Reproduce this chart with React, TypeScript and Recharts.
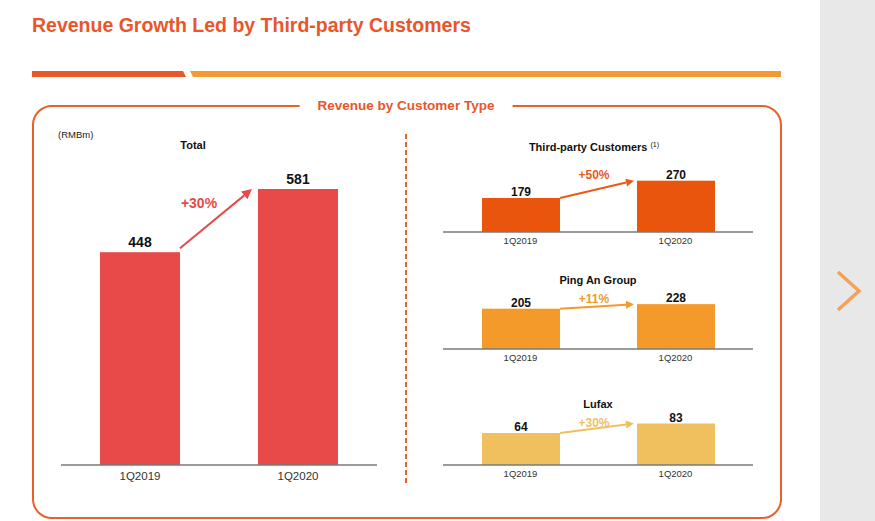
import React from 'react';
import { BarChart, Bar, XAxis, YAxis, LabelList } from 'recharts';

// values (RMB m)
const periods = ['1Q2019', '1Q2020'];
const totalRevenue = [448, 581];
const thirdPartyRevenue = [179, 270];
const pingAnRevenue = [205, 228];
const lufaxRevenue = [64, 83];
const growthTotal = '+30%';
const growthThirdParty = '+50%';
const growthPingAn = '+11%';
const growthLufax = '+30%';

const FONT = '"Liberation Sans", Arial, Helvetica, sans-serif';
const ORANGE = '#e9602a';

type ChartProps = {
  values: number[];
  growth: string;
  color: string;
  arrowColor: string;
  left: number;
  width: number;
  plotTop: number;
  plotHeight: number;
  yMax: number;
  barSize: number;
  axisH: number;
  tickFont: number;
  tickGap: number;
  valueSize: number;
  valueOffset: number;
  growthSize: number;
  startDy: number;
  endGap: number;
  head: number;
  labelDx: number;
  labelDy: number;
};

function GrowthChart(p: ChartProps) {
  const rows = periods.map((period, i) => ({ period, value: p.values[i] }));
  const topPad = 40;
  const rects: any[] = [];

  // bar shape: the second bar also draws the growth arrow from the first bar
  const shape = (props: any) => {
    const { x, y, width, height, index } = props;
    rects[index] = { x, y, width, height };
    let arrow = null;
    if (index === 1 && rects[0]) {
      const a = rects[0];
      const sx = a.x + a.width;
      const sy = a.y + p.startDy;
      const ex = x - p.endGap;
      const ey = y;
      const ang = Math.atan2(ey - sy, ex - sx);
      const bx = ex - p.head * Math.cos(ang);
      const by = ey - p.head * Math.sin(ang);
      const hw = p.head * 0.5;
      const px = -Math.sin(ang) * hw;
      const py = Math.cos(ang) * hw;
      arrow = (
        <g>
          <line x1={sx} y1={sy} x2={bx} y2={by} stroke={p.arrowColor} strokeWidth={2} />
          <polygon points={`${ex},${ey} ${bx + px},${by + py} ${bx - px},${by - py}`} fill={p.arrowColor} />
          <text
            x={sx + p.labelDx}
            y={y + p.labelDy}
            textAnchor="middle"
            dominantBaseline="central"
            fill={p.arrowColor}
            fontSize={p.growthSize}
            fontWeight="bold"
            fontFamily={FONT}
          >
            {p.growth}
          </text>
        </g>
      );
    }
    return (
      <g>
        <rect x={x} y={y} width={width} height={height} fill={p.color} />
        {arrow}
      </g>
    );
  };

  return (
    <div style={{ position: 'absolute', left: p.left, top: p.plotTop - topPad }}>
      <BarChart
        width={p.width}
        height={topPad + p.plotHeight + p.axisH}
        data={rows}
        margin={{ top: topPad, right: 10, bottom: 0, left: 10 }}
      >
        <XAxis
          dataKey="period"
          height={p.axisH}
          interval={0}
          tickLine={false}
          tickSize={p.tickGap}
          tickMargin={0}
          axisLine={{ stroke: '#7a7a7a', strokeWidth: 1.5 }}
          tick={{ fill: '#333', fontSize: p.tickFont, fontFamily: FONT }}
        />
        <YAxis hide domain={[0, p.yMax]} />
        <Bar dataKey="value" barSize={p.barSize} shape={shape} isAnimationActive={false}>
          <LabelList
            dataKey="value"
            position="top"
            offset={p.valueOffset}
            fill="#111"
            fontSize={p.valueSize}
            fontWeight="bold"
            fontFamily={FONT}
          />
        </Bar>
      </BarChart>
    </div>
  );
}

function Txt({ x, y, size, children, color = '#111', bold = false, anchor = 'center' }: any) {
  const tx = anchor === 'center' ? '-50%' : '0';
  return (
    <div
      style={{
        position: 'absolute',
        left: x,
        top: y,
        transform: `translate(${tx}, -50%)`,
        whiteSpace: 'nowrap',
        fontSize: size,
        fontWeight: bold ? 'bold' : 'normal',
        color,
        fontFamily: FONT,
        lineHeight: 1,
      }}
    >
      {children}
    </div>
  );
}

const rightCommon = {
  left: 433,
  width: 330,
  barSize: 78,
  axisH: 20,
  tickFont: 9.5,
  tickGap: 5.5,
  valueSize: 12,
  valueOffset: 2,
  growthSize: 12,
  startDy: 0,
  endGap: 3,
  head: 8,
  labelDx: 34,
};

export default function App() {
  return (
    <div
      style={{
        position: 'absolute',
        left: 0,
        top: 0,
        width: 875,
        height: 521,
        background: '#fff',
        overflow: 'hidden',
        fontFamily: FONT,
      }}
    >
      {/* grey side panel with next arrow */}
      <div style={{ position: 'absolute', left: 820, top: 0, width: 55, height: 521, background: '#e8e8e8' }} />
      <svg style={{ position: 'absolute', left: 0, top: 0 }} width={875} height={521}>
        <polyline points="838,272 859,291 838,310" fill="none" stroke="#f5a259" strokeWidth={3.5} />
        <polygon points="32,71 183,71 186,77 32,77" fill="#e8582a" />
        <polygon points="190,71 781,71 781,77 193,77" fill="#f39a33" />
        <line x1={406} y1={134} x2={406} y2={484} stroke={ORANGE} strokeWidth={2} strokeDasharray="5 3" />
      </svg>

      <Txt x={32} y={26} size={19.5} bold color="#e8562a" anchor="left">
        Revenue Growth Led by Third-party Customers
      </Txt>

      {/* rounded frame */}
      <div
        style={{
          position: 'absolute',
          left: 32,
          top: 105,
          width: 750,
          height: 414,
          boxSizing: 'border-box',
          border: `2.5px solid ${ORANGE}`,
          borderRadius: 20,
        }}
      />
      <div
        style={{
          position: 'absolute',
          left: 406,
          top: 106,
          transform: 'translate(-50%, -50%)',
          background: '#fff',
          padding: '2px 18px',
          whiteSpace: 'nowrap',
          fontSize: 13.5,
          fontWeight: 'bold',
          color: '#e8562a',
          fontFamily: FONT,
          lineHeight: 1,
        }}
      >
        Revenue by Customer Type
      </div>

      <Txt x={58} y={135} size={9.5} anchor="left" color="#222">(RMBm)</Txt>
      <Txt x={193} y={145} size={11} bold>Total</Txt>
      <Txt x={594} y={147} size={11} bold>
        Third-party Customers <span style={{ fontSize: 7, fontWeight: 'normal', verticalAlign: 4 }}>(1)</span>
      </Txt>
      <Txt x={598} y={280} size={11} bold>Ping An Group</Txt>
      <Txt x={598} y={404} size={11} bold>Lufax</Txt>

      <GrowthChart
        values={totalRevenue}
        growth={growthTotal}
        color="#e84a4a"
        arrowColor="#e84a4a"
        left={51}
        width={336}
        plotTop={180}
        plotHeight={285}
        yMax={600}
        barSize={80}
        axisH={30}
        tickFont={11.5}
        tickGap={7}
        valueSize={14}
        valueOffset={5}
        growthSize={14}
        startDy={-4}
        endGap={6}
        head={10}
        labelDx={19}
        labelDy={14}
      />
      <GrowthChart
        {...rightCommon}
        values={thirdPartyRevenue}
        growth={growthThirdParty}
        color="#e9550d"
        arrowColor="#ea5a16"
        plotTop={175}
        plotHeight={57}
        yMax={300}
        labelDy={-6}
      />
      <GrowthChart
        {...rightCommon}
        values={pingAnRevenue}
        growth={growthPingAn}
        color="#f39a2a"
        arrowColor="#f39a2a"
        plotTop={290}
        plotHeight={59}
        yMax={300}
        labelDy={-5}
      />
      <GrowthChart
        {...rightCommon}
        values={lufaxRevenue}
        growth={growthLufax}
        color="#f0c05e"
        arrowColor="#f0c05e"
        plotTop={415}
        plotHeight={50}
        yMax={100}
        labelDy={-1}
      />
    </div>
  );
}
